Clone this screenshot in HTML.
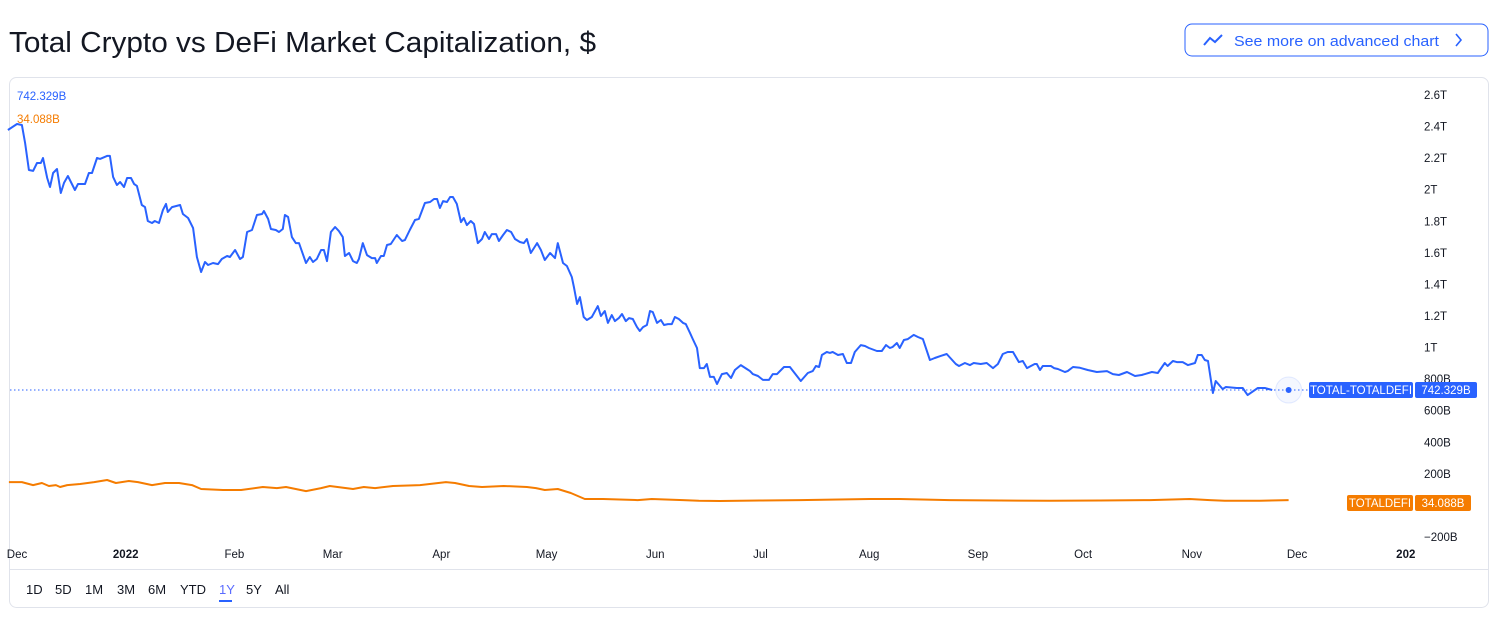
<!DOCTYPE html>
<html><head><meta charset="utf-8"><style>
html,body{margin:0;padding:0;background:#fff;}
svg{display:block;font-family:"Liberation Sans",sans-serif;}
</style></head><body>
<svg id="c" width="1501" height="621" viewBox="0 0 1501 621" xmlns="http://www.w3.org/2000/svg">
<text x="9" y="52" font-size="29" fill="#131722" textLength="587" lengthAdjust="spacingAndGlyphs">Total Crypto vs DeFi Market Capitalization, $</text>
<g>
<rect x="1185" y="24" width="303" height="32" rx="7" fill="#fff" stroke="#2962ff" stroke-width="1"/>
<polyline points="1204,45 1210,38 1215,42 1222,35" fill="none" stroke="#2962ff" stroke-width="2"/>
<text x="1234" y="46" font-size="15" fill="#2962ff" textLength="205" lengthAdjust="spacingAndGlyphs">See more on advanced chart</text>
<polyline points="1456,34 1461,40 1456,46" fill="none" stroke="#2962ff" stroke-width="1.6"/>
</g>
<rect x="9.5" y="77.5" width="1479" height="530" rx="7" fill="#fff" stroke="#e0e3eb"/>
<line x1="10" y1="569.5" x2="1488" y2="569.5" stroke="#e0e3eb"/>
<g id="yaxis"></g>
<g id="xaxis"></g>
<g id="plot"></g>
<text x="17" y="100" font-size="11.5" fill="#2962ff">742.329B</text>
<text x="17" y="123" font-size="11.5" fill="#f57c00">34.088B</text>
<g id="ranges"></g>
</svg>
<script>
const yTicks = [2600, 2400, 2200, 2000, 1800, 1600, 1400, 1200, 1000, 800, 600, 400, 200, -200];
const yTickLabels = ["2.6T","2.4T","2.2T","2T","1.8T","1.6T","1.4T","1.2T","1T","800B","600B","400B","200B","−200B"];
const xTickDays = [0, 31, 62, 90, 121, 151, 182, 212, 243, 274, 304, 335, 365, 396];
const xTickLabels = ["Dec","2022","Feb","Mar","Apr","May","Jun","Jul","Aug","Sep","Oct","Nov","Dec","202"];
const totalDays = [-2.6,0,1.4,2.3,3.4,4.6,5.7,6.8,7.4,8.6,9.4,10.3,11.4,12.5,13.4,14.5,16.5,17.4,19.4,20.5,21.4,22.8,23.7,25.7,26.5,27.4,28.5,29.4,30.5,31.4,32.5,33.4,34.2,35.6,36.5,37.3,38.5,39.3,40.5,41.6,42.5,43,44.2,46.5,47.3,48.8,50.2,51.3,52.5,53.6,54.5,55.9,57.3,58.4,59.9,60.7,62.2,63.6,64.4,65.6,67,68.4,69.9,70.4,71.6,72.4,73.8,74.7,75.8,76.4,77.3,78.4,79.5,80.4,82.4,83.5,84.4,85.5,86.7,87.5,88.4,89.5,90.7,91.8,92.9,93.5,94.7,95.8,96.9,97.5,98.6,99.8,101.2,102.1,102.6,103.8,104.6,105.5,106.6,108.3,109.8,110.6,112,113.5,114.6,116.3,117.8,118.9,119.8,120.6,121.5,122.6,123.5,124.3,125.4,126.6,127.4,128.3,129.4,130.3,131.4,132.6,133.4,134.6,135.4,136.6,137.4,138.6,139.7,140.9,142,143.4,144.5,145.4,146.5,148.3,149.4,150.5,152,153.4,154.2,155.7,156.8,158.2,158.8,159.7,160.5,161.6,162.5,163.9,165.6,166.5,167.6,168.5,169.6,170.5,171.6,172.5,173.6,174.5,175.6,176.8,177.6,178.5,179.6,180.5,181.3,182.5,183.6,184.5,185.6,186.7,187.6,188.7,189.9,190.7,191.9,192.7,193.9,194.7,195.9,196.7,197.6,198.7,199.6,201,202.4,203.6,204.7,206.4,208.1,209,209.8,211.3,212.7,214.4,215.5,216.7,218.7,220.4,223.5,225.5,226.9,227.8,228.7,229.5,230.9,231.8,232.6,234.1,235.5,236.6,237.8,238.9,240.6,241.8,242.9,245.2,246.6,247.8,248.9,249.7,250.9,251.7,252.9,254,255.7,256.9,258.3,260.3,261.7,263.4,265.1,267.7,268.6,270.3,271.7,272.8,274.8,276.5,278.3,279.7,281.1,282.5,284,285.7,286.8,288,289.1,290.2,290.8,291.7,292.5,294.8,295.7,296.8,298.8,299.6,301.1,303.1,305.3,307.9,310.8,312.5,314.2,316.5,318.8,320.7,323.6,325.3,327.3,328.1,329.6,330.7,332.4,333.9,335.9,336.7,337.8,338.7,339.6,341,341.8,343.8,344.7,347.8,349.5,350.9,353.8,355.8,357.9,360.9,362.6];
const totalValues = [2378,2416,2410,2296,2125,2119,2169,2169,2201,2074,2017,2106,2131,1979,2043,2087,1998,2036,2036,2106,2106,2201,2195,2214,2214,2081,2030,2049,2017,2074,2074,2036,2024,1903,1890,1802,1789,1802,1789,1871,1910,1859,1890,1903,1846,1821,1757,1574,1479,1542,1523,1536,1529,1561,1580,1574,1618,1561,1574,1732,1745,1840,1846,1865,1815,1751,1745,1732,1751,1840,1827,1700,1662,1662,1536,1574,1542,1561,1618,1618,1548,1732,1764,1738,1700,1580,1599,1548,1536,1561,1662,1586,1567,1567,1536,1580,1580,1650,1656,1713,1675,1681,1745,1808,1815,1916,1922,1941,1941,1884,1928,1922,1954,1954,1910,1795,1821,1776,1802,1783,1662,1688,1732,1688,1719,1719,1675,1713,1745,1732,1688,1669,1662,1688,1599,1662,1618,1555,1599,1567,1662,1536,1517,1447,1384,1276,1320,1194,1175,1194,1263,1200,1232,1156,1206,1168,1187,1213,1168,1187,1181,1130,1105,1130,1143,1232,1225,1156,1175,1143,1149,1149,1194,1181,1156,1149,1093,1054,997,870,870,896,814,814,769,832,839,807,858,889,864,851,832,820,795,795,832,832,877,877,788,839,851,883,877,953,972,966,972,953,959,902,902,972,1016,1010,997,978,978,1016,997,1004,1029,997,1048,1054,1080,1067,1054,921,934,947,959,896,883,902,889,902,896,902,870,896,959,972,972,908,915,870,883,896,896,858,883,883,870,864,845,851,877,872,858,845,851,832,826,845,820,826,845,839,902,883,915,908,908,889,902,953,953,921,915,712,788,737,750,744,744,699,744,744,731];
const defiDays = [-2.3,1.4,4.6,7.1,9.1,11.1,12.3,14.3,18,22,25.7,28.2,31.9,34.5,38.5,42.2,46.2,49.9,52.5,58.7,63.9,70.1,74.1,76.7,82.4,86.7,89.2,95.8,98.9,102.1,107.2,114.9,122.3,124.9,128.9,132.6,138.8,145.4,148,150.5,154.2,157.9,161.9,167.1,177,181,189.9,194.4,200.4,211.8,223.2,243.2,251.7,266,280.3,294.5,308.8,323,334.4,340.1,344.4,354.4,362.6];
const defiValues = [148,148,129,142,123,129,117,129,136,148,161,142,155,148,129,142,142,129,104,98,98,117,110,117,91,110,123,104,117,110,123,129,148,142,123,117,123,117,110,98,104,79,41,41,34,41,34,30,28,31,34,41,41,34,31,30,31,34,41,34,30,30,34];

const X0 = 17, PXD = 3.507;
function xs(d){ return X0 + d*PXD; }
function ys(v){ return 95 + (2600 - v)*0.15786; }
const NS = "http://www.w3.org/2000/svg";
function mk(tag, attrs, parent){ const e=document.createElementNS(NS,tag); for(const k in attrs) e.setAttribute(k,attrs[k]); parent.appendChild(e); return e; }

const yg=document.getElementById('yaxis');
yTicks.forEach((v,i)=>{
  const t=mk('text',{x:1424,y:ys(v)+4,'font-size':11.5,fill:'#131722'},yg);
  
  
  t.textContent=yTickLabels[i];
});
const xg=document.getElementById('xaxis');
xTickDays.forEach((d,i)=>{
  const t=mk('text',{x:xs(d),y:558,'font-size':11.5,fill:'#131722','text-anchor':'middle','font-weight':xTickLabels[i]==='2022'||xTickLabels[i]==='202'?'bold':'normal'},xg);
  
  
  t.textContent=xTickLabels[i];
});

const pg=document.getElementById('plot');
const lastT = totalValues[totalValues.length-1];
const dot=mk('line',{x1:10,x2:1308,y1:ys(lastT),y2:ys(lastT),stroke:'#2962ff','stroke-width':1,'stroke-dasharray':'1.5 2.5'},pg);


const tl=mk('polyline',{points:totalDays.map((d,i)=>xs(d).toFixed(1)+','+ys(totalValues[i]).toFixed(1)).join(' '),fill:'none',stroke:'#2962ff','stroke-width':2,'stroke-linejoin':'round'},pg);


const dl=mk('polyline',{points:defiDays.map((d,i)=>xs(d).toFixed(1)+','+ys(defiValues[i]).toFixed(1)).join(' '),fill:'none',stroke:'#f57c00','stroke-width':2,'stroke-linejoin':'round'},pg);


const ex=xs(totalDays[totalDays.length-1]), ey=ys(lastT);
const halo=mk('circle',{cx:ex,cy:ey,r:13,fill:'rgba(41,98,255,0.05)',stroke:'rgba(41,98,255,0.12)'},pg);


const ep=mk('circle',{cx:ex,cy:ey,r:3,fill:'#2962ff'},pg);



function tag(x1,w1,x2,w2,yc,color,name,val,dn){
  const g=mk('g',{},pg);
  
  
  mk('rect',{x:x1,y:yc-8,width:w1,height:16,rx:2,fill:color},g);
  mk('rect',{x:x2,y:yc-8,width:w2,height:16,rx:2,fill:color},g);
  const a=mk('text',{x:x1+w1/2,y:yc+4,'font-size':11.5,fill:'#fff','text-anchor':'middle'},g); a.textContent=name;
  const b=mk('text',{x:x2+w2/2,y:yc+4,'font-size':11.5,fill:'#fff','text-anchor':'middle'},g); b.textContent=val;
}
tag(1309,104,1415,62,ey,'#2962ff','TOTAL-TOTALDEFI','742.329B','total-price-tag');
tag(1347,66,1415,56,503,'#f57c00','TOTALDEFI','34.088B','defi-price-tag');

const rg=document.getElementById('ranges');
const rl=["1D","5D","1M","3M","6M","YTD","1Y","5Y","All"];
const rx=[26,55,85,117,148,180,219,246,275];
rl.forEach((l,i)=>{
  const t=mk('text',{x:rx[i],y:594,'font-size':13,fill:l==='1Y'?'#5b6cff':'#131722'},rg);
  
  
  t.textContent=l;
});
const ul=mk('rect',{x:219,y:600,width:13,height:2,fill:'#2962ff'},rg);


</script>
</body></html>
